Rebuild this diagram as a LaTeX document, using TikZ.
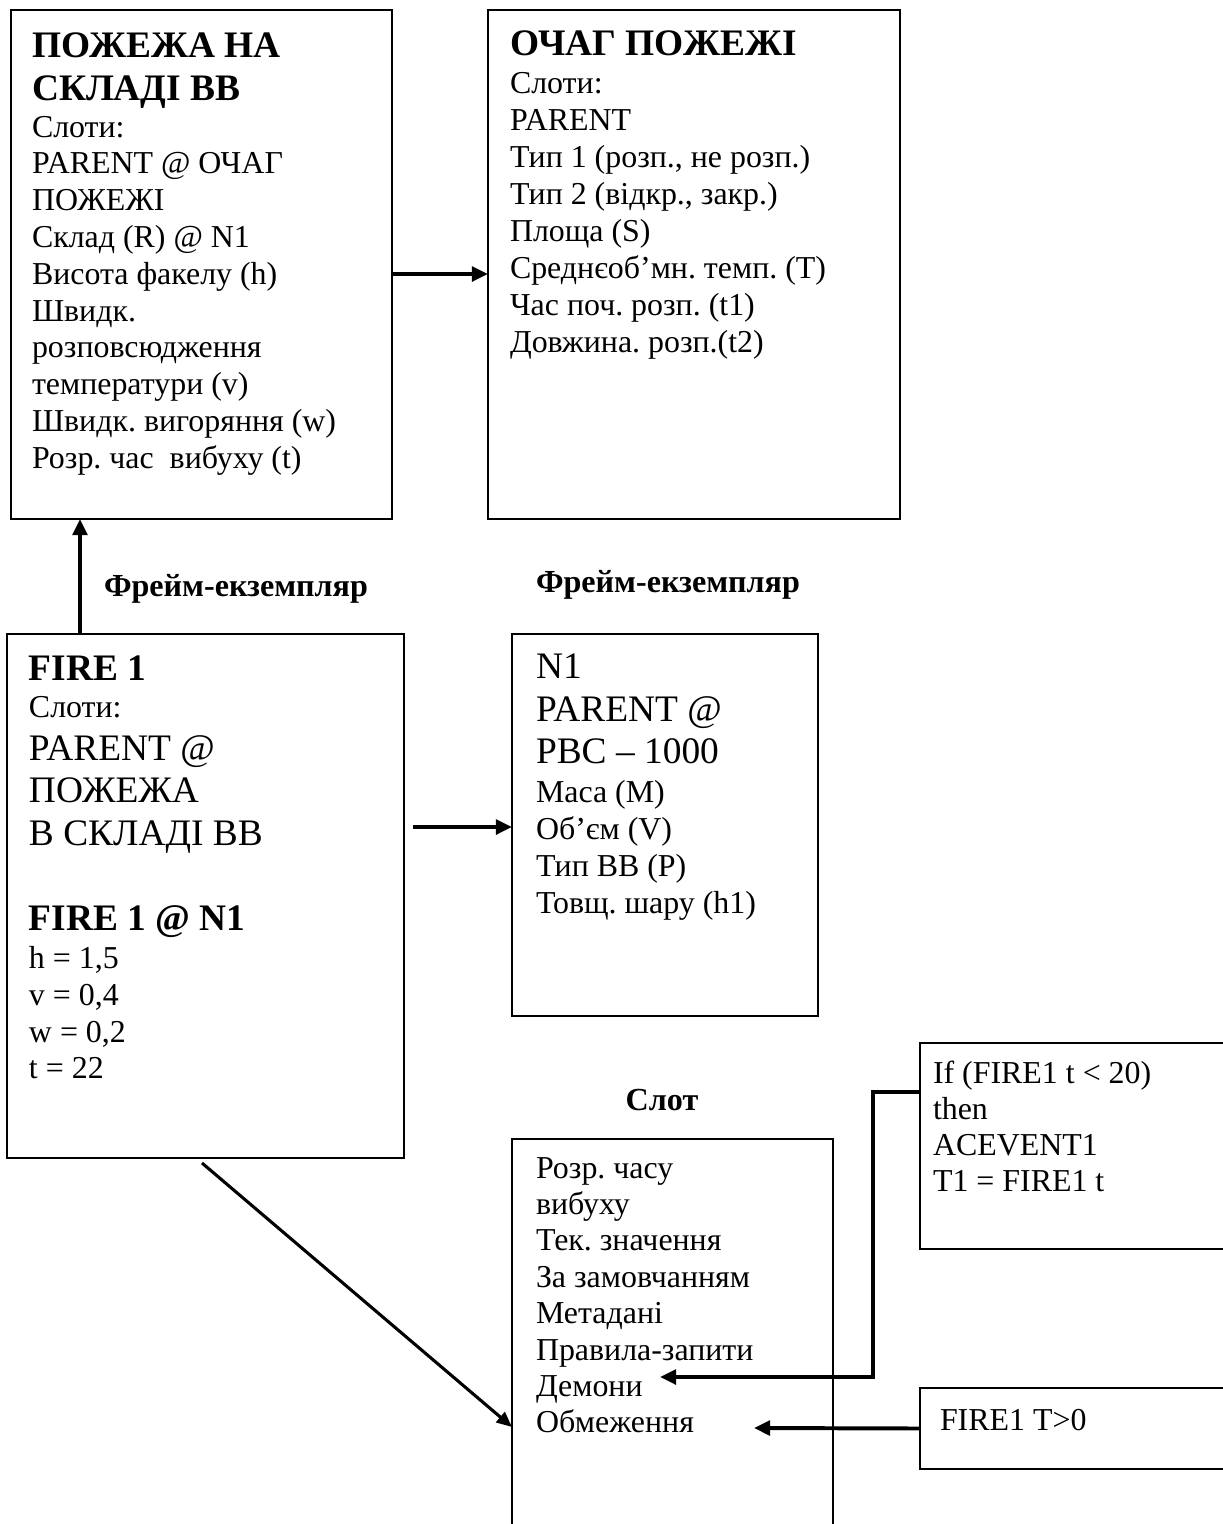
\documentclass[tikz,border=0pt]{standalone}
\usepackage{fontspec}
\setmainfont{Liberation Serif}
\usetikzlibrary{arrows.meta,fit}

% one drawing unit
\newdimen\pxu \pxu=0.4545pt

% font sizes
\newcommand\fsReg{\fontsize{14.5pt}{16pt}\selectfont\mdseries}
\newcommand\fsTitle{\fontsize{17pt}{19pt}\selectfont\bfseries}
\newcommand\fsBig{\fontsize{17pt}{19pt}\selectfont\mdseries}
\newcommand\fsLab{\fontsize{14.6pt}{16pt}\selectfont\bfseries}

% a text line placed #1 units below the previous baseline
\newcommand\tline[2]{\baselineskip=#1\pxu\relax\hbox{#2}}
\newcommand\block[1]{\vtop{\frenchspacing\lineskiplimit=-\maxdimen\lineskip=0pt #1}}

\begin{document}
\frenchspacing
\begin{tikzpicture}[x=\pxu, y=-\pxu,
  frame/.style={draw, line width=0.9pt, inner sep=0pt, outer sep=0pt},
  txt/.style={anchor=base west, inner sep=0pt, outer sep=0pt},
  lab/.style={inner sep=0pt, outer sep=0pt, font=\fsLab},
  conn/.style={line width=1.8pt, -{Triangle[length=7.3pt,width=6.6pt]}},
  diag/.style={line width=1.4pt, -{Triangle[length=7pt,width=6pt]}}]

\useasboundingbox (0,0) rectangle (1223,1524);
\clip (0,0) rectangle (1223,1524);
\fill[white] (0,0) rectangle (1223,1524);

% frames
\node[frame, fit={(11,10) (392,519)}] (pozh) {};
\node[frame, fit={(488,10) (900,519)}] (ochag) {};
\node[frame, fit={(7,634) (404,1158)}] (fire) {};
\node[frame, fit={(512,634) (818,1016)}] (n1) {};
\node[frame, fit={(512,1139) (833,1560)}] (slot) {};
\node[frame, fit={(920,1043) (1260,1249)}] (rule) {};
\node[frame, fit={(920,1388) (1260,1469)}] (cons) {};

% frame contents
\node[txt] (pozhT) at (32,57) {\block{\fsTitle
  \tline{0}{ПОЖЕЖА НА}\tline{43}{СКЛАДІ ВВ}\fsReg
  \tline{37}{Слоти:}\tline{36.8}{PARENT @ ОЧАГ}\tline{36.8}{ПОЖЕЖІ}
  \tline{36.8}{Склад (R) @ N1}\tline{36.8}{Висота факелу (h)}
  \tline{36.8}{Швидк.}\tline{36.8}{розповсюдження}
  \tline{36.8}{температури (v)}\tline{36.8}{Швидк. вигоряння (w)}
  \tline{36.8}{Розр. час\ \ вибуху (t)}}};

\node[txt] (ochagT) at (510,55) {\block{\fsTitle
  \tline{0}{ОЧАГ ПОЖЕЖІ}\fsReg
  \tline{38}{Слоти:}\tline{37}{PARENT}\tline{37}{Тип 1 (розп., не розп.)}
  \tline{37}{Тип 2 (відкр., закр.)}\tline{37}{Площа (S)}
  \tline{37}{Среднєоб’мн. темп. (Т)}\tline{37}{Час поч. розп. (t1)}
  \tline{37}{Довжина. розп.(t2)}}};

\node[txt] (fireT) at (29,680) {\block{\fsTitle
  \tline{0}{FIRE 1}\fsReg
  \tline{37}{Слоти:}\fsBig
  \tline{43}{PARENT @}\tline{42.5}{ПОЖЕЖА}\tline{42.5}{В СКЛАДІ ВВ}\fsTitle
  \tline{85}{FIRE 1 @ N1}\fsReg
  \tline{38}{h = 1,5}\tline{37}{v = 0,4}\tline{37}{w = 0,2}\tline{36}{t = 22}}};

\node[txt] (n1T) at (536,678) {\block{\fsBig
  \tline{0}{N1}\tline{43}{PARENT @}\tline{42}{РВС – 1000}\fsReg
  \tline{39}{Маса (М)}\tline{37.5}{Об’єм (V)}\tline{37}{Тип ВВ (Р)}
  \tline{36.5}{Товщ. шару (h1)}}};

\node[txt] (slotT) at (536,1178) {\block{\fsReg
  \tline{0}{Розр. часу}\tline{36.4}{вибуху}\tline{36.4}{Тек. значення}
  \tline{36.4}{За замовчанням}\tline{36.4}{Метадані}
  \tline{36.4}{Правила-запити}\tline{36.4}{Демони}\tline{36.4}{Обмеження}}};

\node[txt] (ruleT) at (933,1083) {\block{\fsReg
  \tline{0}{If (FIRE1 t < 20)}\tline{36.3}{then}\tline{36.3}{ACEVENT1}
  \tline{36.3}{T1 = FIRE1 t}}};

\node[txt] (consT) at (940,1430) {\block{\fsReg\tline{0}{FIRE1 T>0}}};

% captions
\node[lab, anchor=base west] (capL) at (104,596) {Фрейм-екземпляр};
\node[lab, anchor=base west] (capR) at (536,592) {Фрейм-екземпляр};
\node[lab, anchor=base] (capS) at (662,1110) {Слот};

% connectors
\coordinate (a1) at (392,274);
\draw[conn] (a1) -- (a1 -| ochag.west);
\coordinate (a2) at (80,634);
\draw[conn] (a2) -- (a2 |- pozh.south);
\coordinate (a3) at (413,827);
\draw[conn] (a3) -- (a3 -| n1.west);
\coordinate (a4) at (202,1163);
\coordinate (a4e) at (512,1427);
\draw[diag] (a4) -- (a4e);
\coordinate (r0) at (920,1092);
\coordinate (r1) at (873,1092);
\coordinate (r2) at (873,1377);
\coordinate (r3) at (660,1377);
\draw[conn] (r0) -- (r1) -- (r2) -- (r3);
\coordinate (c1) at (754,1428);
\draw[conn] (cons.west) -- (c1);
\end{tikzpicture}
\end{document}
